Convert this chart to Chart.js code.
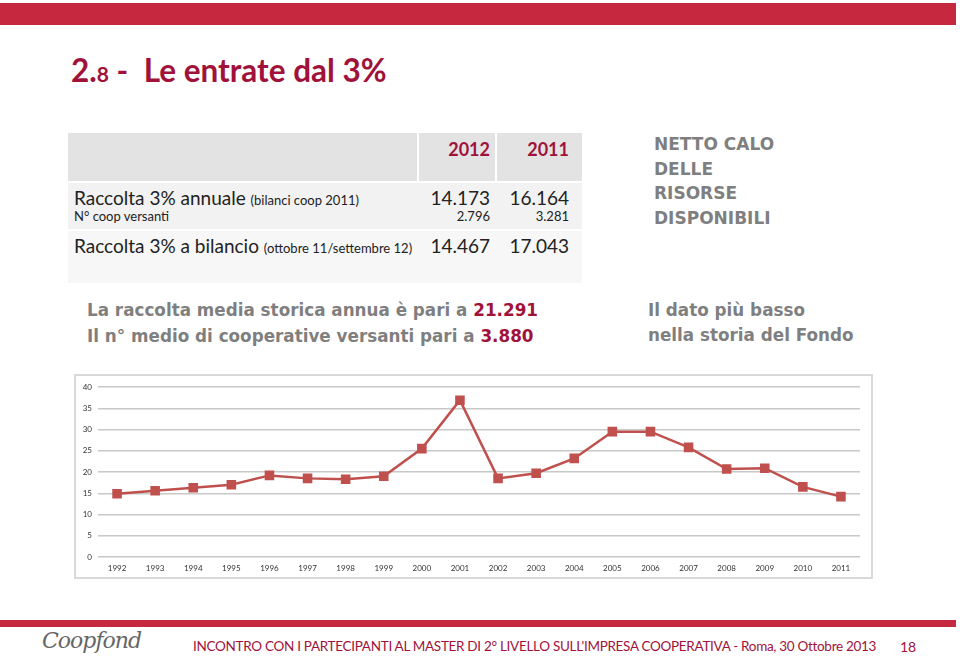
<!DOCTYPE html>
<html>
<head>
<meta charset="utf-8">
<script src="https://cdn.jsdelivr.net/npm/chart.js@4/dist/chart.umd.min.js"></script>
<style>
  body { margin: 0; width: 960px; height: 660px; background: #fff; position: relative; overflow: hidden; font-family: Lato, sans-serif; }
  .abs { position: absolute; white-space: nowrap; }
  .bar { position: absolute; background: #c5283f; }
  .crimson { color: #a0123a; }
  .grey { color: #7f7f7f; font-family: "DejaVu Sans", sans-serif; font-weight: bold; }
  #frame { position: absolute; left: 74px; top: 374px; width: 795px; height: 201px; border: 2px solid #d9d9d9; }
  .cell { position: absolute; }
</style>
</head>
<body>
<div class="bar" style="left:0;top:3px;width:956px;height:22px"></div>
<div class="abs crimson" style="left:71px;top:51px;font-size:31.5px;font-weight:bold;">2.<span style="font-size:21px">8</span> -&nbsp; Le entrate dal 3%</div>

<!-- table -->
<div class="cell" style="left:68px;top:133px;width:349px;height:48px;background:#e3e3e3"></div>
<div class="cell" style="left:419px;top:133px;width:76px;height:48px;background:#e3e3e3"></div>
<div class="cell" style="left:497px;top:133px;width:85px;height:48px;background:#e3e3e3"></div>
<div class="cell" style="left:68px;top:183px;width:514px;height:46px;background:#f2f2f2"></div>
<div class="cell" style="left:68px;top:231px;width:514px;height:52px;background:#f7f7f7"></div>
<div class="abs crimson" style="left:440px;top:138px;width:50px;text-align:right;font-size:18px;font-weight:bold">2012</div>
<div class="abs crimson" style="left:519px;top:138px;width:50px;text-align:right;font-size:18px;font-weight:bold">2011</div>
<div class="abs" style="left:74px;top:186px;font-size:19px;color:#222">Raccolta 3% annuale <span style="font-size:13px">(bilanci coop 2011)</span></div>
<div class="abs" style="left:74px;top:208px;font-size:13px;color:#222">N° coop versanti</div>
<div class="abs" style="left:410px;top:186px;width:80px;text-align:right;font-size:19px;color:#222">14.173</div>
<div class="abs" style="left:489px;top:186px;width:80px;text-align:right;font-size:19px;color:#222">16.164</div>
<div class="abs" style="left:410px;top:208px;width:80px;text-align:right;font-size:13px;color:#222">2.796</div>
<div class="abs" style="left:489px;top:208px;width:80px;text-align:right;font-size:13px;color:#222">3.281</div>
<div class="abs" style="left:74px;top:234px;font-size:19px;color:#222">Raccolta 3% a bilancio <span style="font-size:13px">(ottobre 11/settembre 12)</span></div>
<div class="abs" style="left:410px;top:234px;width:80px;text-align:right;font-size:19px;color:#222">14.467</div>
<div class="abs" style="left:489px;top:234px;width:80px;text-align:right;font-size:19px;color:#222">17.043</div>

<div class="abs grey" style="left:654px;top:132px;font-size:17px;line-height:24.5px">NETTO CALO<br>DELLE<br>RISORSE<br>DISPONIBILI</div>
<div class="abs grey" style="left:87px;top:298px;font-size:16.8px;line-height:25.5px">La raccolta media storica annua è pari a <span class="crimson">21.291</span><br>Il n° medio di cooperative versanti pari a <span class="crimson">3.880</span></div>
<div class="abs grey" style="left:648px;top:298px;font-size:16.8px;line-height:25px">Il dato più basso<br>nella storia del Fondo</div>

<div id="frame"><canvas id="entrateChart" width="795" height="201"></canvas></div>

<div class="bar" style="left:0;top:620px;width:956px;height:7px"></div>
<div class="abs" style="left:42px;top:628px;font-family:'DejaVu Serif',serif;font-style:italic;font-size:22px;color:#666;letter-spacing:-1px">Coopfond</div>
<div class="abs crimson" style="left:193px;top:638px;font-size:13.5px;letter-spacing:-0.3px">INCONTRO CON I PARTECIPANTI AL MASTER DI 2° LIVELLO SULL'IMPRESA COOPERATIVA - Roma, 30 Ottobre 2013</div>
<div class="abs crimson" style="left:900px;top:638px;font-size:14px">18</div>

<script>
// Values (annual 3% contributions)
const years = ['1992','1993','1994','1995','1996','1997','1998','1999','2000','2001',
               '2002','2003','2004','2005','2006','2007','2008','2009','2010','2011'];
const entrate = [14.9, 15.6, 16.3, 17.0, 19.2, 18.5, 18.3, 19.0, 25.5, 36.9,
                 18.5, 19.7, 23.2, 29.5, 29.5, 25.8, 20.7, 20.9, 16.5, 14.2];
const yMin = 0, yMax = 40, yStep = 5;

const ctx = document.getElementById('entrateChart');
new Chart(ctx.getContext('2d'), {
    type: 'line',
    data: {
        labels: years,
        datasets: [{
            data: entrate,
            borderColor: '#c0504d',
            backgroundColor: '#c0504d',
            borderWidth: 2.5,
            pointStyle: 'rect',
            pointRadius: 5,
            pointHoverRadius: 5,
            tension: 0
        }]
    },
    options: {
        responsive: false,
        animation: false,
        devicePixelRatio: 1,
        layout: { padding: { top: 11, right: 11, bottom: 0, left: 0 } },
        plugins: { legend: { display: false }, tooltip: { enabled: false } },
        scales: {
            x: {
                offset: true,
                grid: { display: false, drawTicks: false },
                border: { display: false },
                ticks: { padding: 7, color: '#333', font: { family: 'Lato', size: 8 }, maxRotation: 0 },
                afterFit: s => { s.height = 20; }
            },
            y: {
                min: yMin,
                max: yMax,
                grid: { color: '#c8c8c8', lineWidth: 1.5, drawTicks: false },
                border: { display: false },
                ticks: { stepSize: yStep, padding: 6, color: '#333', font: { family: 'Lato', size: 8 } },
                afterFit: s => { s.width = 22; }
            }
        }
    }
});
</script>
</body>
</html>
